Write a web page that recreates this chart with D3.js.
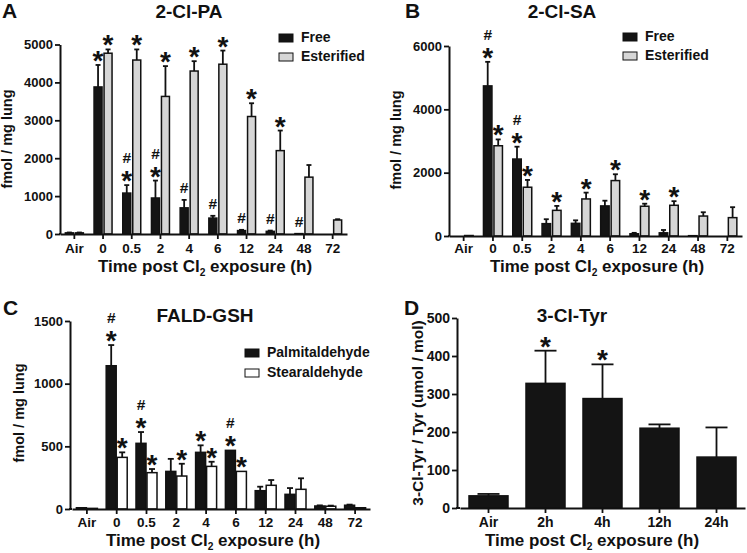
<!DOCTYPE html>
<html><head><meta charset="utf-8">
<script src="https://cdn.jsdelivr.net/npm/d3@7"></script>
<style>
body{margin:0;background:#fff;}
svg text{font-family:"Liberation Sans",Arial,Helvetica,sans-serif;font-weight:bold;fill:#111;}
</style></head><body>
<svg id="chart" width="747" height="553"></svg>
<script>
// ---------- DATA ----------
const timeCats = ["Air","0","0.5","2","4","6","12","24","48","72"];

// Panel A: 2-Cl-PA (fmol / mg lung)
const paFree      = [30, 3880, 1080, 950, 690, 420, 90, 70, 10, 0];
const paFreeSem   = [10, 580, 210, 460, 210, 60, 20, 20, 0, 0];
const paFreeMarks = ["", "*", "*#", "*#", "#", "#", "#", "#", "#", ""];
const paEst       = [30, 4770, 4590, 3630, 4300, 4480, 3100, 2200, 1500, 370];
const paEstSem    = [10, 100, 280, 800, 260, 360, 350, 530, 320, 20];
const paEstMarks  = ["", "*", "*", "*", "*", "*", "*", "*", "", ""];
const paTicks     = [0, 1000, 2000, 3000, 4000, 5000];

// Panel B: 2-Cl-SA (fmol / mg lung)
const saFree      = [0, 4740, 2430, 390, 400, 950, 70, 100, 10, 0];
const saFreeSem   = [0, 760, 390, 140, 95, 165, 30, 90, 0, 0];
const saFreeMarks = ["", "*#", "*#", "", "", "", "", "", "", ""];
const saEst       = [15, 2850, 1540, 810, 1170, 1750, 940, 970, 630, 580];
const saEstSem    = [0, 200, 230, 140, 200, 200, 80, 130, 120, 330];
const saEstMarks  = ["", "*", "*", "*", "*", "*", "*", "*", "", ""];
const saTicks     = [0, 2000, 4000, 6000];

// Panel C: FALD-GSH (fmol / mg lung)
const palm        = [10, 1143, 524, 300, 452, 468, 146, 117, 24, 30];
const palmSem     = [0, 165, 90, 100, 56, 0, 32, 50, 5, 5];
const palmMarks   = ["", "*#", "*#", "", "*", "*#", "", "", "", ""];
const stear       = [5, 412, 290, 263, 340, 300, 189, 157, 22, 10];
const stearSem    = [0, 40, 29, 98, 37, 0, 42, 88, 5, 0];
const stearMarks  = ["", "*", "*", "*", "*", "*", "", "", "", ""];
const faldTicks   = [0, 500, 1000, 1500];

// Panel D: 3-Cl-Tyr / Tyr (umol / mol)
const tyrCats     = ["Air", "2h", "4h", "12h", "24h"];
const tyrVals     = [32, 328, 288, 210, 134];
const tyrSem      = [5, 86, 90, 10, 78];
const tyrMarks    = ["", "*", "*", "", ""];
const tyrTicks    = [0, 100, 200, 300, 400, 500];

// ---------- DRAWING ----------
const svg = d3.select("#chart");
const INK = "#111";

function drawMarks(g, cx, top, m) {
  const hasStar = m.includes("*"), hasHash = m.includes("#");
  if (hasStar) {
    g.append("text").attr("x", cx).attr("y", top + 5).attr("text-anchor", "middle")
      .style("font-size", "28px").text("*");
  }
  if (hasHash) {
    const yb = hasStar ? top - 22 : top - 7;
    g.append("text").attr("x", cx).attr("y", yb).attr("text-anchor", "middle")
      .style("font-size", "15.5px").text("#");
  }
}

function xTitle(g, cx, yb, size) {
  const t = g.append("text").attr("x", cx).attr("y", yb).attr("text-anchor", "middle")
    .style("font-size", size + "px");
  t.append("tspan").text("Time post Cl");
  t.append("tspan").text("2").attr("dy", size * 0.22).style("font-size", (size * 0.6) + "px");
  t.append("tspan").text(" exposure (h)").attr("dy", -size * 0.22);
}

function yTitle(g, xb, cy, size, label) {
  g.append("text").attr("transform", `translate(${xb},${cy}) rotate(-90)`)
    .attr("text-anchor", "middle").style("font-size", size + "px").text(label);
}

function styleAxis(ax, fs) {
  ax.selectAll(".domain").attr("stroke", INK).attr("stroke-width", 2);
  ax.selectAll(".tick line").attr("stroke", INK).attr("stroke-width", 1.8);
  ax.selectAll(".tick text").style("font-size", fs + "px").attr("fill", INK);
}

function panel(o) {
  const g = svg.append("g");
  const x = d3.scaleBand().domain(o.cats).range(o.xRange);
  const y = d3.scaleLinear().domain([0, o.yMax]).range(o.yRange);
  const bw = o.barW;
  o.series.forEach((s, si) => {
    let off;
    if (o.series.length === 1) off = -bw / 2;
    else off = si === 0 ? -o.gap / 2 - bw : o.gap / 2;
    o.cats.forEach((c, i) => {
      const v = s.values[i];
      const bx = x(c) + x.bandwidth() / 2 + off;
      const mid = bx + bw / 2;
      if (v > 0) {
        g.append("rect").attr("x", bx).attr("y", y(v)).attr("width", bw)
          .attr("height", Math.max(0.5, y(0) - y(v)))
          .attr("fill", s.fill).attr("stroke", INK).attr("stroke-width", 1.5);
      }
      const se = s.sem[i];
      if (se > 0) {
        g.append("line").attr("x1", mid).attr("x2", mid).attr("y1", y(v)).attr("y2", y(v + se))
          .attr("stroke", INK).attr("stroke-width", 1.8);
        g.append("line").attr("x1", mid - o.capW / 2).attr("x2", mid + o.capW / 2)
          .attr("y1", y(v + se)).attr("y2", y(v + se)).attr("stroke", INK).attr("stroke-width", 1.8);
      }
      if (s.marks && s.marks[i]) drawMarks(g, mid, y(v + se), s.marks[i]);
    });
  });
  const ya = g.append("g").attr("transform", `translate(${o.yAxisX},0)`)
    .call(d3.axisLeft(y).tickValues(o.yTicks).tickSize(5).tickSizeOuter(0).tickPadding(2).tickFormat(d3.format("d")));
  styleAxis(ya, o.yFont);
  const xa = g.append("g").attr("transform", `translate(0,${o.yRange[0]})`)
    .call(d3.axisBottom(x).tickSize(5).tickSizeOuter(0).tickPadding(o.xPad));
  styleAxis(xa, o.xFont);
  g.append("line").attr("x1", o.yAxisX - 1).attr("x2", o.xRange[0]).attr("y1", o.yRange[0]).attr("y2", o.yRange[0])
    .attr("stroke", INK).attr("stroke-width", 2);

  g.append("text").attr("x", o.letter[1]).attr("y", o.letter[2]).style("font-size", "21px").text(o.letter[0]);
  g.append("text").attr("x", o.title[1]).attr("y", o.title[2]).attr("text-anchor", "middle")
    .style("font-size", "19px").text(o.title[0]);
  xTitle(g, o.xt[0], o.xt[1], 17);
  yTitle(g, o.yt[0], o.yt[1], o.yt[2], o.yt[3]);
  if (o.legend) {
    o.legend.items.forEach((it, k) => {
      const ly = o.legend.y + k * o.legend.dy;
      g.append("rect").attr("x", o.legend.x).attr("y", ly - 8).attr("width", 14).attr("height", 8)
        .attr("fill", it[1]).attr("stroke", INK).attr("stroke-width", 1);
      g.append("text").attr("x", o.legend.x + 22).attr("y", ly).style("font-size", "14px").text(it[0]);
    });
  }
}

const BLACK = "#141414", GREY = "#d6d6d6", WHITE = "#ffffff";

panel({
  cats: timeCats, xRange: [60, 347], yRange: [234, 44.5], yMax: 5000, yTicks: paTicks, yAxisX: 60,
  barW: 8, gap: 2, capW: 5, yFont: 13, xFont: 13.5, xPad: 4,
  series: [
    {values: paFree, sem: paFreeSem, marks: paFreeMarks, fill: BLACK},
    {values: paEst, sem: paEstSem, marks: paEstMarks, fill: GREY}
  ],
  letter: ["A", 2, 18], title: ["2-Cl-PA", 189, 18], xt: [205, 272], yt: [12, 139, 14.5, "fmol / mg lung"],
  legend: {x: 279, y: 42, dy: 19, items: [["Free", BLACK], ["Esterified", GREY]]}
});

panel({
  cats: timeCats, xRange: [449, 742], yRange: [236, 46], yMax: 6000, yTicks: saTicks, yAxisX: 449,
  barW: 8.5, gap: 2, capW: 5, yFont: 13, xFont: 13.5, xPad: 2,
  series: [
    {values: saFree, sem: saFreeSem, marks: saFreeMarks, fill: BLACK},
    {values: saEst, sem: saEstSem, marks: saEstMarks, fill: GREY}
  ],
  letter: ["B", 405, 18], title: ["2-Cl-SA", 562, 18], xt: [597, 272], yt: [401, 140, 14.5, "fmol / mg lung"],
  legend: {x: 623, y: 41, dy: 19, items: [["Free", BLACK], ["Esterified", GREY]]}
});

panel({
  cats: timeCats, xRange: [72, 370], yRange: [509, 321], yMax: 1500, yTicks: faldTicks, yAxisX: 70,
  barW: 10, gap: 1, capW: 6, yFont: 13, xFont: 13.5, xPad: 3,
  series: [
    {values: palm, sem: palmSem, marks: palmMarks, fill: BLACK},
    {values: stear, sem: stearSem, marks: stearMarks, fill: WHITE}
  ],
  letter: ["C", 3, 315], title: ["FALD-GSH", 205, 322], xt: [213, 546], yt: [24, 413, 14.5, "fmol / mg lung"],
  legend: {x: 245, y: 357, dy: 20, items: [["Palmitaldehyde", BLACK], ["Stearaldehyde", WHITE]]}
});

panel({
  cats: tyrCats, xRange: [460, 745], yRange: [508, 318], yMax: 500, yTicks: tyrTicks, yAxisX: 457,
  barW: 39, gap: 0, capW: 22, yFont: 14, xFont: 14, xPad: 4,
  series: [
    {values: tyrVals, sem: tyrSem, marks: tyrMarks, fill: BLACK}
  ],
  letter: ["D", 404, 315], title: ["3-Cl-Tyr", 572, 322], xt: [592, 546], yt: [423, 413, 15.5, "3-Cl-Tyr / Tyr  (umol / mol)"]
});
</script>
</body></html>
